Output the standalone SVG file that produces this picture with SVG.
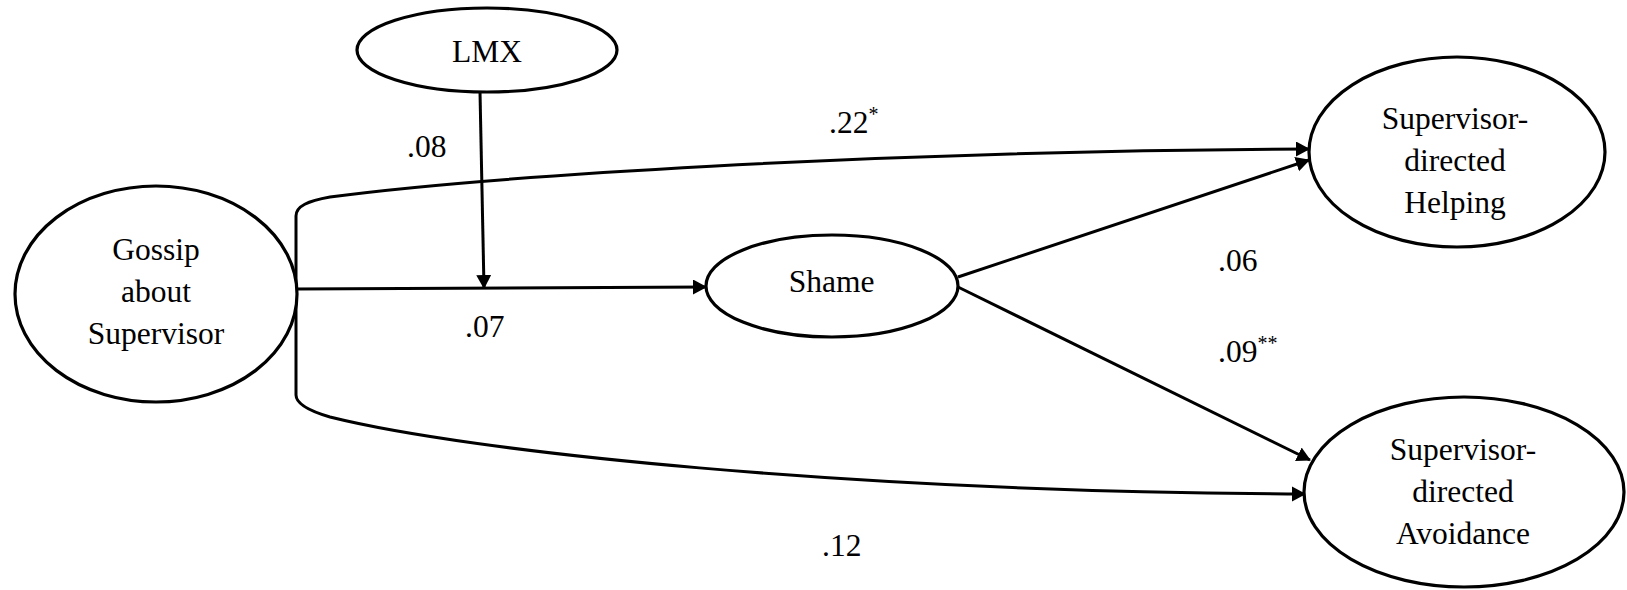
<svg xmlns="http://www.w3.org/2000/svg" width="1627" height="590" viewBox="0 0 1627 590">
<style>
.node{fill:#fff;stroke:#000;stroke-width:3.2}
.lbl{font-size:31.5px;fill:#000}
.mid{text-anchor:middle}
.sup{font-size:20px}
.edge{fill:none;stroke:#000;stroke-width:3}
</style>
<defs>
<marker id="arr" markerUnits="userSpaceOnUse" markerWidth="16" markerHeight="16" refX="13" refY="7.5" orient="auto">
<path d="M0,0 L14,7.5 L0,15 z" fill="#000"/>
</marker>
</defs>
<g id="connectors">
<path class="edge" d="M480,92 L484,288" marker-end="url(#arr)"/>
<path class="edge" d="M296,289 L706,287" marker-end="url(#arr)"/>
<path class="edge" d="M296,289 L296,216 C296,206 308,201 330,197 C480,177 870,151 1309,149" marker-end="url(#arr)"/>
<path class="edge" d="M296,289 L296,395 C296,403 306,410 330,417 C470,452 850,492 1305,494" marker-end="url(#arr)"/>
<path class="edge" d="M958,277 L1309,160" marker-end="url(#arr)"/>
<path class="edge" d="M958,287 L1310,460" marker-end="url(#arr)"/>
</g>
<g font-family="'Liberation Serif', 'Times New Roman', Tinos, 'DejaVu Serif', serif">
<g id="lmx">
<ellipse class="node" cx="487" cy="50" rx="130" ry="42"/>
<text class="lbl mid" x="487" y="62">LMX</text>
</g>
<g id="gossip">
<ellipse class="node" cx="156" cy="294" rx="141" ry="108"/>
<text class="lbl mid" x="156" y="260">Gossip</text>
<text class="lbl mid" x="156" y="302">about</text>
<text class="lbl mid" x="156" y="344">Supervisor</text>
</g>
<g id="shame">
<ellipse class="node" cx="832" cy="286" rx="126" ry="51"/>
<text class="lbl mid" x="831.5" y="292">Shame</text>
</g>
<g id="helping">
<ellipse class="node" cx="1457" cy="152" rx="148" ry="95"/>
<text class="lbl mid" x="1455" y="129">Supervisor-</text>
<text class="lbl mid" x="1455" y="171">directed</text>
<text class="lbl mid" x="1455" y="213">Helping</text>
</g>
<g id="avoidance">
<ellipse class="node" cx="1464" cy="492" rx="160" ry="95"/>
<text class="lbl mid" x="1463" y="460">Supervisor-</text>
<text class="lbl mid" x="1463" y="502">directed</text>
<text class="lbl mid" x="1463" y="544">Avoidance</text>
</g>
<g id="labels">
<text class="lbl" x="407" y="157">.08</text>
<text class="lbl" x="465" y="337">.07</text>
<text class="lbl" x="829" y="133">.22<tspan class="sup" dy="-12">*</tspan></text>
<text class="lbl" x="1218" y="271">.06</text>
<text class="lbl" x="1218" y="362">.09<tspan class="sup" dy="-12">**</tspan></text>
<text class="lbl" x="822" y="556">.12</text>
</g>
</g>
</svg>
